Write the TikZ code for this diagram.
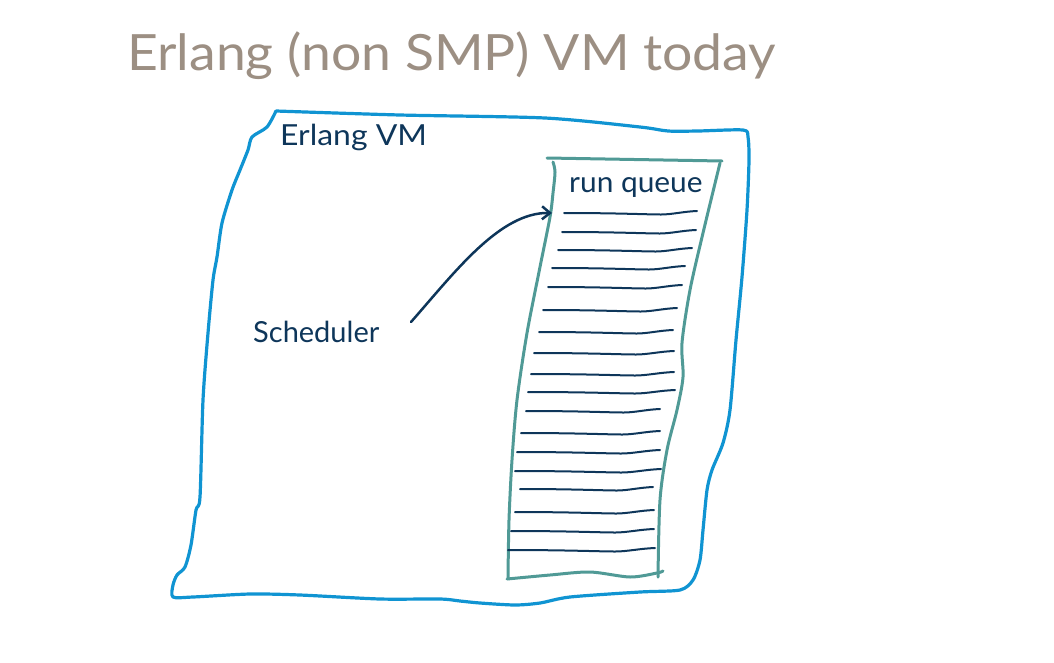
\documentclass[tikz,border=0pt]{standalone}
\usepackage{fontspec}
\setmainfont{Lato}
\usetikzlibrary{arrows.meta}
\definecolor{vmblue}{RGB}{16,148,210}
\definecolor{qteal}{RGB}{80,154,150}
\definecolor{inknavy}{RGB}{14,54,90}
\definecolor{titlegray}{RGB}{156,143,131}
\begin{document}
\begin{tikzpicture}[x=1pt,y=-1pt, line cap=round, line join=round,
  vmline/.style={draw=vmblue, line width=3.2pt},
  qside/.style={draw=qteal, line width=3pt},
  entry/.style={draw=inknavy, line width=2pt},
  lbl/.style={text=inknavy, inner sep=0pt, anchor=base west, font=\fontsize{29}{31}\selectfont},
  ttl/.style={text=titlegray, inner sep=0pt, anchor=base west, font=\fontsize{50}{52}\selectfont},
  pointer/.style={draw=inknavy, line width=2.5pt, -{Straight Barb[length=8pt,width=13pt,line width=2.5pt]}}]
\useasboundingbox (0,0) rectangle (1054,662);

% title and labels
\node[ttl, xscale=1.07] (title) at (127,70) {Erlang (non SMP) VM today};
\node[lbl, xscale=1.1] (vmlabel) at (280,145) {Erlang VM};
\node[lbl, xscale=1.03] (rqlabel) at (569,192) {run queue};
\node[lbl] (sched) at (253,342) {Scheduler};

% Erlang VM outline
\draw[vmline] plot[smooth, tension=0.45] coordinates {
  (276,111) (400,115) (545,118) (640,127) (668,131) (698,131) (743,130)
  (748,137) (749,160) (747,210) (742,277) (736,340) (730,410) (723,443)
  (712,470) (707,490) (703,530) (700,560) (693,580) (680,590) (640,592)
  (570,597) (540,603) (515,605) (480,603) (460,601) (440,599) (380,599)
  (300,595) (250,594) (193,597) (173,597) (173,585) (177,575) (185,567)
  (191,545) (196,510) (200,497) (203,400) (208,333) (213,280) (217,257)
  (222,223) (232,190) (240,170) (248,150) (252,137) (267,127) (276,111)};

% run queue
\draw[qside] (547,158) -- (722,161);
\draw[qside] plot[smooth, tension=0.5] coordinates {
  (553,162) (555,172) (553,193) (550,217) (540,267) (527,333) (517,400)
  (512,460) (509,520) (508,578)};
\draw[qside] plot[smooth, tension=0.5] coordinates {
  (507,579) (550,575) (590,572) (630,577) (657,573) (663,571)};
\draw[qside] plot[smooth, tension=0.5] coordinates {
  (720,163) (703,233) (690,290) (682,343) (683,377) (677,410) (667,450)
  (660,500) (658,577)};

% queue entries
\foreach \a/\b/\y in {564/697/213, 562/696/232, 558/692/250, 552/685/268,
    548/682/287, 543/677/310, 539/673/332, 534/674/353, 531/674/374,
    528/675/392, 526/660/411, 521/660/433, 517/660/452, 515/661/471,
    520/653/489, 515/654/512, 511/654/531, 508/655/550} {
  \pgfmathsetmacro\w{\b-\a}
  \pgfmathsetmacro\xm{\a+0.73*\w}
  \pgfmathsetmacro\ca{\a+0.4*\w}
  \pgfmathsetmacro\cb{\xm-0.1*\w}
  \pgfmathsetmacro\cc{\xm+0.08*\w}
  \pgfmathsetmacro\cd{\b-0.1*\w}
  \pgfmathsetmacro\yd{\y+1.5}
  \pgfmathsetmacro\ye{\y-2}
  \pgfmathsetmacro\yc{\y-1.5}
  \draw[entry] (\a,\y) .. controls (\ca,\y) and (\cb,\yd) .. (\xm,\yd)
     .. controls (\cc,\yd) and (\cd,\yc) .. (\b,\ye);
}

% scheduler pointer
\coordinate (pstart) at (411,322);
\coordinate (qin) at (552,213);
\draw[pointer] (pstart) .. controls (455,272) and (500,212) .. (qin);
\end{tikzpicture}
\end{document}
